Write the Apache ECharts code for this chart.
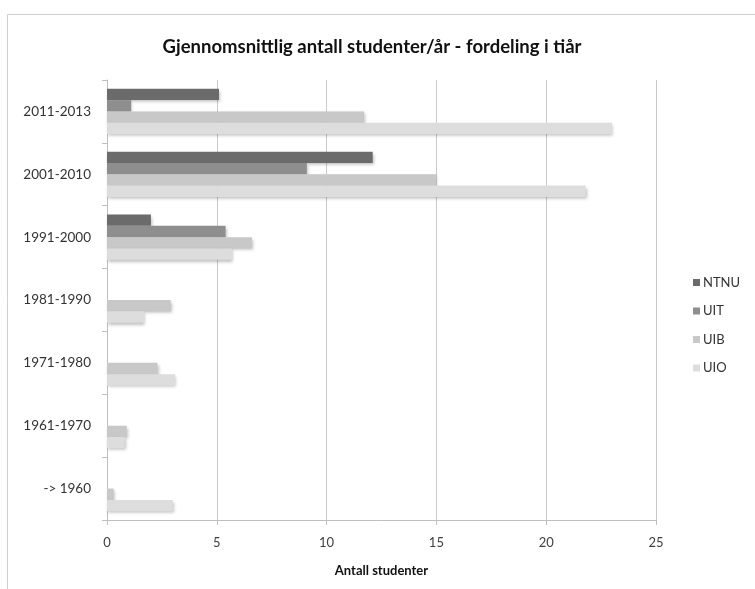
<!DOCTYPE html>
<html>
<head>
<meta charset="utf-8">
<script src="https://cdn.jsdelivr.net/npm/echarts@6/dist/echarts.min.js"></script>
<style>html,body{margin:0;padding:0;background:#fff;}#c{width:755px;height:589px;}</style>
</head>
<body>
<div id="c"></div>
<script>
var categories = ['-> 1960', '1961-1970', '1971-1980', '1981-1990', '1991-2000', '2001-2010', '2011-2013'];
var ntnu = [0, 0, 0, 0, 2.0, 12.1, 5.1];
var uit  = [0, 0, 0, 0, 5.4, 9.1, 1.1];
var uib  = [0.3, 0.9, 2.3, 2.9, 6.6, 15.0, 11.7];
var uio  = [3.0, 0.8, 3.1, 1.7, 5.7, 21.8, 23.0];
var xTicks = [0, 5, 10, 15, 20, 25];
var legendOrder = ['NTNU', 'UIT', 'UIB', 'UIO'];

var FONT = 'Lato, "Open Sans", sans-serif';
var chart = echarts.init(document.getElementById('c'));
function bar(name, data, color) {
  return {
    name: name, type: 'bar', data: data,
    barGap: '0%', barCategoryGap: '28%',
    itemStyle: { color: color, shadowColor: 'rgba(0,0,0,0.25)', shadowBlur: 3, shadowOffsetX: 1, shadowOffsetY: 2 },
    emphasis: { disabled: true },
    animation: false
  };
}
chart.setOption({
  animation: false,
  backgroundColor: '#fff',
  graphic: [
    { type: 'rect', shape: { x: 7.5, y: 14.5, width: 900, height: 700 }, style: { fill: 'none', stroke: '#cfcfcf', lineWidth: 1 }, silent: true, z: -10 },
    { type: 'text', x: 372, y: 47, style: { text: 'Gjennomsnittlig antall studenter/år - fordeling i tiår', align: 'center', verticalAlign: 'middle', font: 'bold 18.5px ' + FONT, fill: '#111' }, silent: true }
  ],
  legend: {
    data: legendOrder, orient: 'vertical', left: 693, top: 276,
    icon: 'rect', itemWidth: 7, itemHeight: 7, itemGap: 15.5, padding: 0,
    textStyle: { fontFamily: FONT, fontSize: 13, color: '#333', padding: [0, 0, 0, -2] },
    selectedMode: false
  },
  grid: { left: 107, right: 99, top: 80, bottom: 69, containLabel: false },
  xAxis: {
    type: 'value', min: xTicks[0], max: xTicks[xTicks.length - 1], interval: 5,
    name: 'Antall studenter', nameLocation: 'middle', nameGap: 44,
    nameTextStyle: { fontFamily: FONT, fontSize: 13, fontWeight: 'bold', color: '#111' },
    axisLine: { show: true, lineStyle: { color: '#bfbfbf', width: 1 } },
    axisTick: { show: true, length: 5, lineStyle: { color: '#bfbfbf' } },
    axisLabel: { fontFamily: FONT, fontSize: 13, color: '#404040', margin: 16 },
    splitLine: { show: true, lineStyle: { color: '#cacaca', width: 1 } }
  },
  yAxis: {
    type: 'category', data: categories,
    axisLine: { show: true, lineStyle: { color: '#bfbfbf', width: 1 } },
    axisTick: { show: true, length: 5, lineStyle: { color: '#bfbfbf' } },
    axisLabel: { fontFamily: FONT, fontSize: 13.5, color: '#333', margin: 16 },
    splitLine: { show: false }
  },
  series: [
    bar('NTNU', ntnu, '#6b6b6b'),
    bar('UIT', uit, '#8e8e8e'),
    bar('UIB', uib, '#c8c8c8'),
    bar('UIO', uio, '#dddddd')
  ]
});
</script>
</body>
</html>
